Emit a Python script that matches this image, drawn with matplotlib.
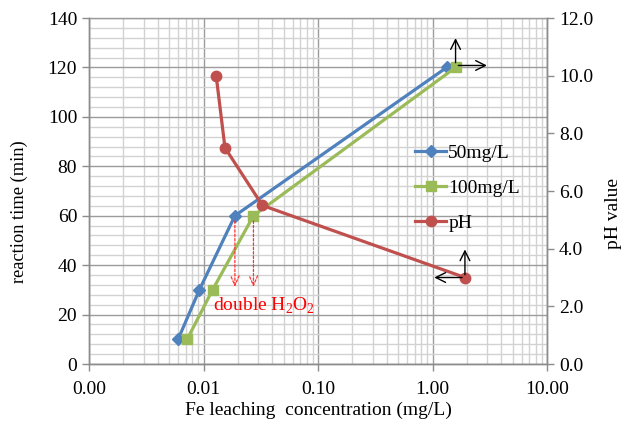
import matplotlib
matplotlib.use("Agg")
import matplotlib.pyplot as plt
from matplotlib.ticker import LogLocator, FixedLocator, MultipleLocator, NullFormatter, FuncFormatter

plt.rcParams['font.family'] = ['Liberation Serif', 'DejaVu Serif']
plt.rcParams['mathtext.fontset'] = 'custom'
plt.rcParams['mathtext.rm'] = 'Liberation Serif'

# Fe leaching concentration (mg/L) vs. reaction time (min)
time_50 = [10, 30, 60, 120]
fe_50 = [0.0060, 0.0092, 0.0188, 1.33]
time_100 = [10, 30, 60, 120]
fe_100 = [0.0072, 0.0120, 0.0273, 1.59]
# pH values against Fe concentration
ph_values = [10.0, 7.5, 5.5, 3.0]
fe_ph = [0.0129, 0.0154, 0.0327, 1.92]

x_ticks = [0.001, 0.01, 0.1, 1, 10]
x_tick_labels = ["0.00", "0.01", "0.10", "1.00", "10.00"]

BLUE = "#4F81BD"
GREEN = "#9BBB59"
RED = "#C0504D"
FS = 14

fig = plt.figure(figsize=(6.25, 4.24), dpi=100)
ax = fig.add_axes([0.1424, 0.1415, 0.7328, 0.816])
ax2 = ax.twinx()

ax.set_xscale('log')
ax.set_xlim(0.001, 10)
ax.set_ylim(0, 140)
ax2.set_ylim(0, 12)

ax.xaxis.set_major_locator(FixedLocator(x_ticks))
ax.set_xticklabels(x_tick_labels)
ax.xaxis.set_minor_locator(LogLocator(base=10, subs=range(2, 10), numticks=20))
ax.xaxis.set_minor_formatter(NullFormatter())
ax.yaxis.set_major_locator(MultipleLocator(20))
ax.yaxis.set_minor_locator(MultipleLocator(4))
ax2.yaxis.set_major_locator(MultipleLocator(2))
ax2.yaxis.set_major_formatter(FuncFormatter(lambda v, p: f"{v:.1f}"))

ax.grid(True, which='major', color='#9c9c9c', lw=1.0)
ax.grid(True, which='minor', color='#d2d2d2', lw=1.0)
ax.set_axisbelow(True)

for a in (ax, ax2):
    for s in a.spines.values():
        s.set_color('#8c8c8c')
        s.set_linewidth(1.0)
    a.tick_params(which='major', direction='out', length=5, color='#8c8c8c',
                  labelsize=FS, width=1.0)
    a.tick_params(which='minor', length=0)
ax2.spines['top'].set_visible(False)
ax.spines['top'].set_color('#9c9c9c')
ax.tick_params(axis='x', pad=7)

l1, = ax.plot(fe_50, time_50, color=BLUE, lw=2.3, marker='D', ms=6.5,
              label='50mg/L', zorder=3)
l2, = ax.plot(fe_100, time_100, color=GREEN, lw=2.3, marker='s', ms=7.5,
              label='100mg/L', zorder=3)
l3, = ax2.plot(fe_ph, ph_values, color=RED, lw=2.3, marker='o', ms=7.5,
               label='pH', zorder=3)

ax.set_ylabel('reaction time (min)', fontsize=13.2)
ax.yaxis.set_label_coords(-0.133, 0.44)
ax.set_xlabel('Fe leaching  concentration (mg/L)', fontsize=14, labelpad=3)
ax2.set_ylabel('pH value', fontsize=14)
ax2.yaxis.set_label_coords(1.127, 0.434)

leg = ax.legend(handles=[l1, l2, l3], loc='upper left',
                bbox_to_anchor=(0.695, 0.657), frameon=False, fontsize=FS,
                handlelength=1.6, handletextpad=0.1, labelspacing=0.9,
                borderaxespad=0)

# Trend arrows at the end points
arrow_k = dict(arrowstyle='->,head_length=0.7,head_width=0.35', color='black', lw=1.0)
ax.annotate('', xy=(fe_100[3], 133), xytext=(fe_100[3], time_100[3] + 0.8),
            arrowprops=arrow_k, zorder=4)
ax.annotate('', xy=(3.16, time_100[3] + 0.8), xytext=(fe_100[3], time_100[3] + 0.8),
            arrowprops=arrow_k, zorder=4)
ax2.annotate('', xy=(fe_ph[3], 4.07), xytext=(fe_ph[3], ph_values[3]),
             arrowprops=arrow_k, zorder=4)
ax2.annotate('', xy=(0.98, ph_values[3]), xytext=(fe_ph[3], ph_values[3]),
             arrowprops=arrow_k, zorder=4)

# Dashed markers where the H2O2 dose was doubled
arrow_r = dict(arrowstyle='->,head_length=0.7,head_width=0.3', color='#FF3030',
               lw=0.9, linestyle=(0, (2, 1.5)))
for fx in (fe_50[2], fe_100[2]):
    ax.annotate('', xy=(fx, 30), xytext=(fx, 59), arrowprops=arrow_r, zorder=4)
ax.text(0.0122, 23.5, 'double H$_\\mathrm{2}$O$_\\mathrm{2}$', color='#FF0000',
        fontsize=FS, va='center', ha='left', zorder=4)

fig.savefig('out.png', dpi=100)
